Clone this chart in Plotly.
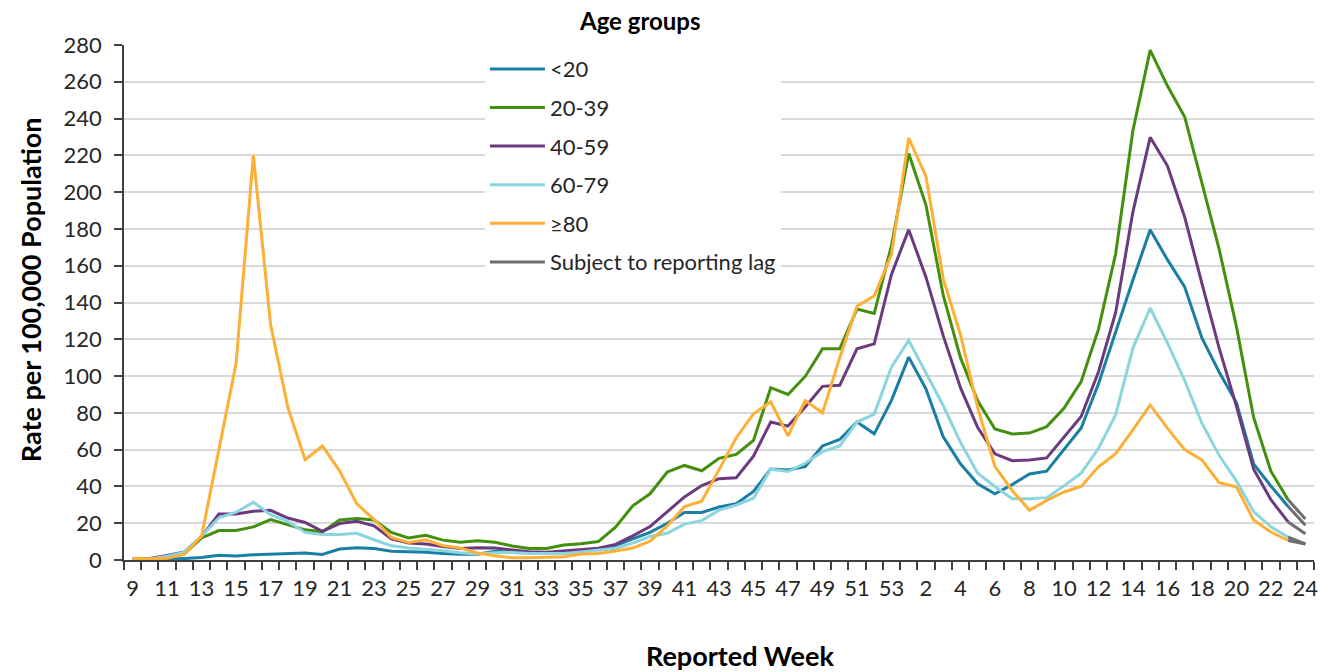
import plotly.graph_objects as go

# Reported weeks: 2020 wk 9-53, then 2021 wk 1-24
weeks = list(range(9, 54)) + list(range(1, 25))

lt20 = [0.3, 0.3, 0.5, 0.8, 1.3, 2.6, 2.2, 2.8, 3.2, 3.4, 3.8, 3.0, 6.0, 6.7, 6.2, 4.8, 4.6, 4.2, 3.6, 3.1,
        3.1, 4.7, 4.1, 4.0, 4.0, 4.5, 5.0, 6.0, 7.8, 11.5, 15.0, 20.0, 25.8, 25.8, 28.8, 30.6, 37.3, 49.4, 49.0, 50.8,
        62.0, 65.5, 75.0, 68.6, 86.8, 110.3, 93.0, 67.0, 52.3, 41.4, 36.0, 41.0, 46.8, 48.3, 60.0, 71.8, 95.7, 124.4, 152.2, 179.5,
        163.3, 148.5, 120.7, 102.2, 85.6, 52.2, 40.2, 29.1, 18.9]
a20_39 = [0.5, 0.5, 1.3, 3.4, 12.0, 16.0, 16.0, 18.0, 22.0, 19.0, 16.4, 15.3, 21.8, 22.5, 21.8, 15.0, 12.0, 13.4, 10.8, 9.7,
          10.5, 9.6, 7.6, 6.2, 6.3, 8.1, 8.8, 10.0, 17.8, 29.5, 36.0, 47.8, 51.4, 48.5, 55.3, 57.4, 65.0, 93.7, 90.0, 99.8,
          114.8, 114.8, 136.4, 134.0, 171.0, 221.0, 193.0, 144.0, 110.0, 86.5, 71.2, 68.5, 69.0, 72.5, 82.5, 97.0, 125.4, 166.5, 233.5, 277.2,
          257.8, 241.0, 204.5, 169.0, 127.0, 77.5, 48.3, 32.7, 22.3]
a40_59 = [0.5, 0.8, 2.4, 4.3, 12.7, 25.0, 25.0, 26.5, 27.0, 22.8, 20.4, 15.6, 19.8, 21.0, 18.6, 11.5, 9.2, 8.7, 7.3, 6.2,
          6.6, 6.5, 5.4, 4.5, 4.2, 4.8, 5.4, 6.4, 8.5, 13.1, 18.2, 26.1, 34.3, 40.5, 44.2, 44.7, 56.5, 75.0, 72.8, 83.2,
          94.4, 95.0, 114.8, 117.5, 155.3, 179.6, 153.8, 122.0, 93.7, 72.0, 57.7, 54.0, 54.4, 55.5, 66.5, 78.0, 102.2, 134.6, 189.3, 229.8,
          214.3, 186.5, 150.4, 115.2, 83.7, 49.4, 32.8, 20.7, 14.3]
a60_79 = [0.3, 0.5, 2.0, 4.3, 13.0, 23.0, 26.0, 31.4, 24.6, 21.0, 15.0, 13.8, 13.8, 14.5, 11.0, 7.7, 6.5, 5.8, 5.0, 3.9,
          3.3, 4.0, 4.1, 3.6, 3.4, 3.6, 4.4, 5.4, 6.4, 9.2, 12.8, 14.5, 19.5, 21.4, 27.1, 29.8, 33.6, 49.4, 48.1, 52.6,
          58.9, 62.0, 75.0, 79.3, 104.9, 119.4, 102.0, 84.0, 64.0, 47.2, 40.0, 33.3, 33.3, 33.9, 40.3, 47.2, 60.6, 79.0, 115.2, 137.0,
          118.0, 97.6, 74.4, 56.9, 43.0, 26.3, 18.0, 12.4, 8.7]
ge80 = [1.0, 0.5, 1.0, 3.0, 13.0, 61.0, 107.0, 220.0, 128.0, 83.0, 54.5, 62.0, 48.5, 30.5, 22.0, 12.3, 9.5, 11.0, 7.8, 6.5,
        3.8, 2.3, 1.2, 1.2, 1.4, 1.8, 3.3, 3.6, 4.9, 6.5, 10.2, 18.5, 29.0, 32.0, 49.0, 66.5, 79.5, 86.0, 67.5, 86.7,
        80.0, 110.0, 138.0, 143.6, 166.0, 229.5, 208.5, 153.0, 122.5, 82.9, 50.8, 37.8, 27.0, 32.4, 37.0, 40.0, 50.7, 57.8, 70.7, 84.3,
        71.7, 60.0, 54.4, 42.0, 39.8, 21.7, 15.2, 10.6, 8.7]

series_names = ["<20", "20-39", "40-59", "60-79", "≥80"]
series_values = [lt20, a20_39, a40_59, a60_79, ge80]
series_colors = ["#1a7fa5", "#43900f", "#6c3b7f", "#8ad5e0", "#fdb035"]
lag_name = "Subject to reporting lag"
lag_color = "#6d6e71"
lag_points = 2  # last two weeks drawn as subject to reporting lag

FONT = "Lato, Carlito, Calibri, sans-serif"

x = list(range(len(weeks)))
n = len(weeks)
cut = n - lag_points + 1

fig = go.Figure()
for name, vals, col in zip(series_names, series_values, series_colors):
    fig.add_trace(go.Scatter(
        x=x[:cut], y=vals[:cut], mode="lines", name=name,
        line=dict(color=col, width=3), legendgroup=name,
        hovertemplate="%{y}<extra>" + name + "</extra>"))
for k, vals in enumerate(series_values):
    fig.add_trace(go.Scatter(
        x=x[cut - 1:], y=vals[cut - 1:], mode="lines", name=lag_name,
        line=dict(color=lag_color, width=3), legendgroup="lag",
        showlegend=(k == 0)))

tickvals = x[::2]
ticktext = [str(w) for w in weeks[::2]]

fig.update_layout(
    width=1334, height=672,
    margin=dict(l=124, r=20, t=45, b=112, autoexpand=False),
    paper_bgcolor="white", plot_bgcolor="white",
    font=dict(family=FONT, size=22, color="#262626"),
    showlegend=True,
    legend=dict(
        x=0.3033, y=0.994, xanchor="left", yanchor="top",
        bgcolor="white", borderwidth=0,
        font=dict(family=FONT, size=22, color="#262626"),
        tracegroupgap=7, traceorder="grouped",
        itemwidth=55,
    ),
    annotations=[
        dict(text="Age groups", x=0.4336, y=1 + 25 / 515, xref="paper", yref="paper",
             xanchor="center", yanchor="middle", showarrow=False,
             font=dict(family=FONT, size=24, color="#000000", weight="bold")),
        dict(text="Reported Week", x=0.5176, y=-95 / 515, xref="paper", yref="paper",
             xanchor="center", yanchor="middle", showarrow=False,
             font=dict(family=FONT, size=27, color="#000000", weight="bold")),
        dict(text="Rate per 100,000 Population", x=-94 / 1190, y=0.524, xref="paper", yref="paper",
             xanchor="center", yanchor="middle", showarrow=False, textangle=-90,
             font=dict(family=FONT, size=27, color="#000000", weight="bold")),
    ],
)

fig.update_xaxes(
    range=[-0.5, n - 0.5], automargin=False,
    tickmode="array", tickvals=tickvals, ticktext=ticktext,
    ticks="", showgrid=False, zeroline=False,
    showline=True, linecolor="#404040", linewidth=1.5,
    ticklabelstandoff=8,
    tickfont=dict(family=FONT, size=22, color="#262626"),
    minor=dict(tickmode="array", tickvals=[v - 0.5 for v in x] + [n - 0.5],
               ticks="outside", ticklen=8, tickcolor="#404040", tickwidth=1.5, showgrid=False),
)
fig.update_yaxes(
    range=[0, 280], dtick=20, tick0=0, automargin=False,
    ticks="outside", ticklen=8, tickcolor="#404040", tickwidth=1.5,
    showgrid=True, gridcolor="#d9d9d9", gridwidth=1.5,
    zeroline=False, showline=True, linecolor="#404040", linewidth=1.5,
    ticklabelstandoff=8,
    tickfont=dict(family=FONT, size=22, color="#262626"),
)

fig.write_html(
    "out.html",
    config={"displayModeBar": False},
    post_script="document.body.style.margin='0';document.body.style.padding='0';",
)
